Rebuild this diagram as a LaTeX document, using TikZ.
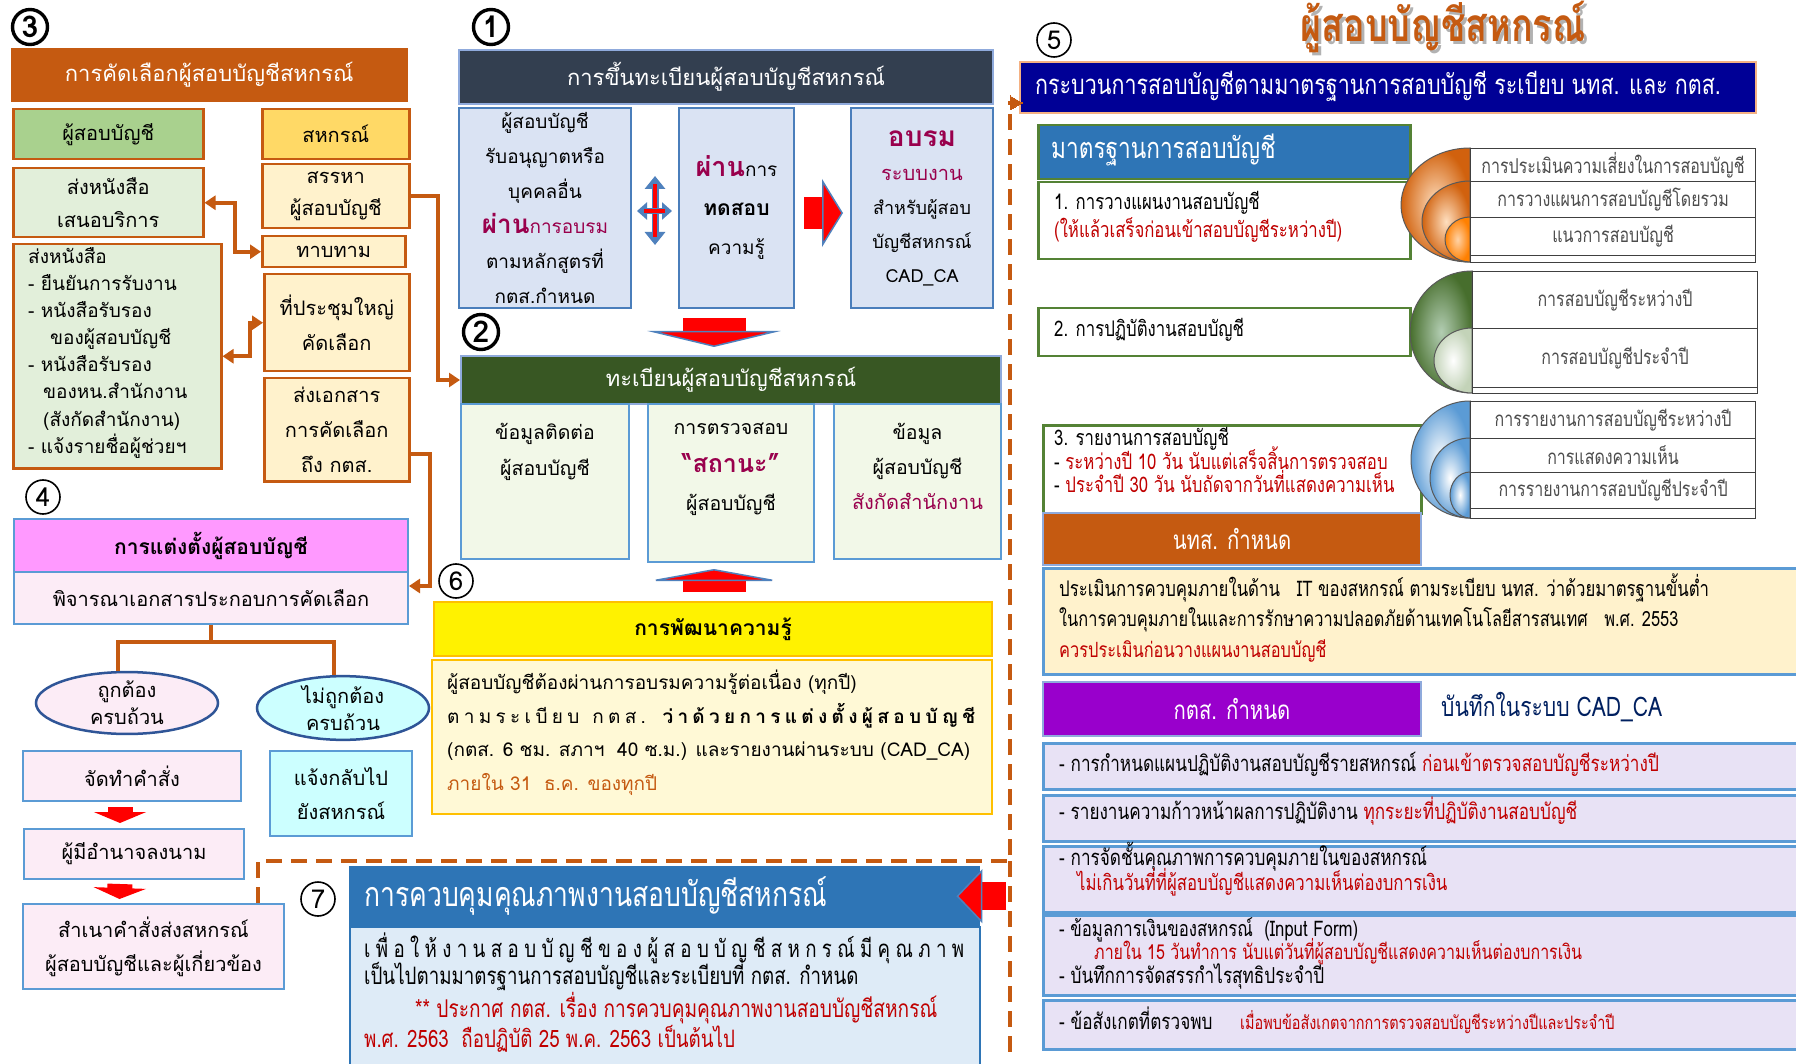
\documentclass[tikz,border=0pt]{standalone}
\usepackage{fontspec}
\setmainfont{Loma}[Script=Thai]
\newfontfamily\thc{Loma}[Script=Thai,FakeStretch=0.78]
\usetikzlibrary{arrows.meta,shapes.geometric,calc}
\definecolor{orD}{RGB}{197,90,17}
\definecolor{grH}{RGB}{169,209,142}
\definecolor{yeH}{RGB}{255,217,102}
\definecolor{lgr}{RGB}{226,239,218}
\definecolor{lye}{RGB}{255,242,204}
\definecolor{nvA}{RGB}{51,63,80}
\definecolor{lbA}{RGB}{143,170,220}
\definecolor{blF}{RGB}{218,227,243}
\definecolor{stA}{RGB}{74,126,187}
\definecolor{dgr}{RGB}{56,87,35}
\definecolor{gtF}{RGB}{242,248,232}
\definecolor{bbA}{RGB}{91,155,213}
\definecolor{yeB}{RGB}{255,192,0}
\definecolor{lyS}{RGB}{255,249,214}
\definecolor{pkA}{RGB}{255,153,255}
\definecolor{lpk}{RGB}{252,236,246}
\definecolor{elB}{RGB}{47,85,151}
\definecolor{lcy}{RGB}{204,255,255}
\definecolor{blS}{RGB}{46,117,182}
\definecolor{lbS}{RGB}{222,235,247}
\definecolor{nvF}{RGB}{0,0,150}
\definecolor{orL}{RGB}{244,177,131}
\definecolor{grF}{RGB}{84,130,53}
\definecolor{purA}{RGB}{153,0,204}
\definecolor{lav}{RGB}{232,226,245}
\definecolor{mar}{RGB}{153,0,76}
\definecolor{rdA}{RGB}{192,0,0}
\definecolor{nvT}{RGB}{0,32,96}
\definecolor{blA}{RGB}{79,129,189}
\newcommand\fs[2]{\fontsize{#1}{#2}\selectfont}
\newcommand\halfell[5]{\shadedraw[#5] (#1,#2) arc[start angle=90,end angle=270,x radius=#3pt,y radius=#4pt] -- cycle;}
\tikzset{
 bx/.style 2 args={anchor=north west, inner sep=0pt, align=center, minimum width=#1pt, minimum height=#2pt},
 ob/.style={draw=orD, line width=2.5pt},
 tl/.style={anchor=base west, inner sep=0pt},
 numbig/.style={circle, draw, line width=3.4pt, inner sep=0pt, minimum size=35pt, font=\bfseries\fs{30}{30}},
 numthin/.style={circle, draw, line width=1.6pt, inner sep=0pt, minimum size=34pt, font=\fs{26}{26}},
 oar/.style={draw=orD, line width=4pt, -{Triangle[width=14pt,length=11pt]}},
 oarb/.style={draw=orD, line width=4pt, {Triangle[width=14pt,length=11pt]}-{Triangle[width=14pt,length=11pt]}},
 blk/.style n args={3}{draw=red, line width=#1, -{Triangle[width=#2,length=#3,color=blA,fill=red,line width=1.5pt]}},
 rdar/.style={draw=red, line width=25pt, -{Triangle[width=52pt,length=11pt]}},
 rw/.style={draw=black!75, line width=1.1pt, fill=white, anchor=north west, inner sep=0pt, minimum width=285pt, text=black!70, font=\thc\fs{20.5}{22}},
 dsh/.style={draw=orD, line width=4pt, dash pattern=on 16pt off 9pt},
}
\begin{document}
\begin{tikzpicture}[x=1pt,y=-1pt]
\useasboundingbox (0,0) rectangle (1796,1064);
\fill[white] (0,0) rectangle (1796,1064);

% ---------- section 3
\node[numbig] (n3) at (30,27) {3};
\node[bx={396}{53}, fill=orD, draw=orD, text=white, font=\fs{22}{26}] (h3) at (11,48) {การคัดเลือกผู้สอบบัญชีสหกรณ์};
\node[bx={190}{50}, ob, fill=grH, font=\fs{20}{24}] (aud) at (12,108) {ผู้สอบบัญชี};
\node[bx={147}{50}, ob, fill=yeH, font=\fs{20}{24}] (coop) at (261,108) {สหกรณ์};
\node[bx={190}{69}, ob, fill=lgr, font=\fs{20}{33}] (send1) at (12,167) {ส่งหนังสือ\\เสนอบริการ};
\node[bx={147}{64}, ob, fill=lye, font=\fs{20}{32}] (recr) at (261,163) {สรรหา\\ผู้สอบบัญชี};
\node[bx={143}{31}, ob, fill=lye, font=\fs{20}{24}] (appr) at (261,235) {ทาบทาม};
\node[bx={208}{224}, ob, fill=lgr] (lst) at (12,243) {};
\begin{scope}[every node/.style={tl, font=\fs{19}{22}}]
\node (lt1) at (28,264) {ส่งหนังสือ};
\node (lt2) at (28,291) {- ยืนยันการรับงาน};
\node (lt3) at (28,318) {- หนังสือรับรอง};
\node (lt4) at (50,345) {ของผู้สอบบัญชี};
\node (lt5) at (28,372) {- หนังสือรับรอง};
\node (lt6) at (43,399) {ของหน.สำนักงาน};
\node (lt7) at (43,426) {(สังกัดสำนักงาน)};
\node (lt8) at (28,453) {- แจ้งรายชื่อผู้ช่วยฯ};
\end{scope}
\node[bx={145}{97}, ob, fill=lye, font=\fs{20}{35}] (meet) at (263,273) {ที่ประชุมใหญ่\\คัดเลือก};
\node[bx={145}{103}, ob, fill=lye, font=\fs{20}{35}] (sdoc) at (263,377) {ส่งเอกสาร\\การคัดเลือก\\ถึง กตส.};

% ---------- section 1
\node[numbig] (n1) at (491,27) {1};
\node[bx={534}{54}, fill=nvA, draw=lbA, line width=2pt, text=white, font=\fs{22}{26}] (h1) at (458,49) {การขึ้นทะเบียนผู้สอบบัญชีสหกรณ์};
\node[bx={172}{200}, fill=blF, draw=stA, line width=2pt, font=\fs{19}{35}] (b1a) at (458,107) {ผู้สอบบัญชี\\รับอนุญาตหรือ\\บุคคลอื่น\\{\color{mar}\bfseries\fs{26}{35}ผ่าน\mdseries\fs{19}{35}การอบรม}\\ตามหลักสูตรที่\\กตส.กำหนด};
\node[bx={115}{200}, fill=blF, draw=stA, line width=2pt, font=\fs{19}{39}] (b1b) at (678,107) {{\color{mar}\bfseries\fs{27}{39}ผ่าน}การ\\{\bfseries\fs{21}{39}ทดสอบ}\\ความรู้};
\node[bx={142}{200}, fill=blF, draw=stA, line width=2pt, font=\fs{18}{34}] (b1c) at (850,107) {{\color{mar}\bfseries\fs{28}{36}อบรม}\\{\color{mar}\fs{20}{34}ระบบงาน}\\สำหรับผู้สอบ\\บัญชีสหกรณ์\\CAD\_CA};
\coordinate (xc) at ($(b1a.east)!0.5!(b1b.west)$);
\draw[draw=blA, line width=7pt, {Triangle[width=20pt,length=13pt]}-{Triangle[width=20pt,length=13pt]}] ($(xc)+(0,-32)$) -- ($(xc)+(0,37)$);
\draw[red, line width=4pt] ($(xc)+(0,-24)$) -- ($(xc)+(0,29)$);
\draw[draw=blA, line width=6pt, {Triangle[width=17pt,length=10pt]}-{Triangle[width=17pt,length=10pt]}] ($(xc)+(-18,3)$) -- ($(xc)+(17,3)$);
\draw[red, line width=4pt] ($(xc)+(-11,3)$) -- ($(xc)+(10,3)$);
\draw[blk={32pt}{68pt}{21pt}] ($(b1b.east)+(9,5)$) -- ($(b1c.west)+(-7,5)$);

% ---------- section 2
\node[numbig] (n2) at (481,332) {2};
\node[bx={540}{48}, fill=dgr, draw=lbA, line width=2pt, text=white, font=\fs{22}{26}] (h2) at (460,355) {ทะเบียนผู้สอบบัญชีสหกรณ์};
\draw[blk={63pt}{133pt}{16pt}] ($(h2.north)+(-17,-37)$) -- ($(h2.north)+(-17,-8)$);
\node[bx={168}{155}, fill=gtF, draw=bbA, line width=2pt] (b2a) at (460,403) {};
\node[bx={166}{158}, fill=gtF, draw=bbA, line width=2pt] (b2b) at (647,403) {};
\node[bx={167}{155}, fill=gtF, draw=bbA, line width=2pt] (b2c) at (833,403) {};
\node[anchor=north, align=center, inner sep=0pt, font=\fs{19.5}{36}] (t2a) at ($(b2a.north)+(0,20)$) {ข้อมูลติดต่อ\\ผู้สอบบัญชี};
\node[anchor=north, align=center, inner sep=0pt, font=\fs{19.5}{38}] (t2b) at ($(b2b.north)+(0,20)$) {การตรวจสอบ\\{\color{mar}\bfseries\fs{25}{38}“สถานะ”}\\ผู้สอบบัญชี};
\node[anchor=north, align=center, inner sep=0pt, font=\fs{19.5}{35}] (t2c) at ($(b2c.north)+(0,20)$) {ข้อมูล\\ผู้สอบบัญชี\\{\color{mar}\fs{20}{35}สังกัดสำนักงาน}};

% section 3 connectors
\draw[oarb] (send1.east) -- ++(30,0) |- (appr.west);
\draw[oarb] (lst.east) -- ++(27,0) |- (meet.west);
\draw[oar] (recr.east) -- ++(27,0) |- (h2.west);

% ---------- section 6
\node[numthin] (n6) at (456,581) {6};
\node[bx={558}{54}, fill=yellow, draw=yeB, line width=2pt, font=\bfseries\fs{21}{24}] (h6) at (433,601) {การพัฒนาความรู้};
\draw[blk={63pt}{133pt}{12pt}] ($(h6.north)+(1,-9)$) -- ($(h6.north)+(1,-32)$);
\node[bx={560}{154}, fill=lyS, draw=yeB, line width=2pt] (b6) at (431,659) {};
\node[tl, font=\fs{19}{22}] (l6a) at (447,689) {ผู้สอบบัญชีต้องผ่านการอบรมความรู้ต่อเนื่อง (ทุกปี)};
\node[tl, font=\fs{19}{22}] (l6b) at (447,723) {\makebox[528pt][s]{ต า ม ร ะ เ บี ย บ \ \ ก ต ส . \ \ {\bfseries ว่ า ด้ ว ย ก า ร แ ต่ ง ตั้ ง ผู้ ส อ บ บั ญ ชี}}};
\node[tl, font=\fs{19}{22}] (l6c) at (447,756) {(กตส. 6 ชม. สภาฯ\ \ 40 ซ.ม.) และรายงานผ่านระบบ (CAD\_CA)};
\node[tl, font=\fs{19}{22}, text=orD] (l6d) at (447,790) {ภายใน 31\ \ ธ.ค. ของทุกปี};

% ---------- section 4
\node[numthin] (n4) at (43,497) {4};
\node[bx={394}{53}, fill=pkA, draw=bbA, line width=2pt, font=\bfseries\fs{21}{24}] (h4) at (13,518) {การแต่งตั้งผู้สอบบัญชี};
\node[bx={394}{52}, fill=lpk, draw=bbA, line width=2pt, font=\fs{20}{24}] (pija) at (13,571) {พิจารณาเอกสารประกอบการคัดเลือก};
\node[ellipse, draw=elB, line width=2.5pt, fill=lpk, minimum width=182pt, minimum height=58pt, inner sep=0pt, align=center, font=\fs{20}{27}] (ell1) at (127,703) {ถูกต้อง\\ครบถ้วน};
\node[ellipse, draw=elB, line width=2.5pt, fill=lcy, minimum width=172pt, minimum height=56pt, inner sep=0pt, align=center, font=\fs{20}{27}] (ell2) at (343,708) {ไม่ถูกต้อง\\ครบถ้วน};
\node[bx={218}{50}, fill=lpk, draw=bbA, line width=2pt, font=\fs{20}{24}] (order) at (22,750) {จัดทำคำสั่ง};
\node[bx={142}{85}, fill=lcy, draw=bbA, line width=2pt, font=\fs{20}{34}] (notify) at (269,750) {แจ้งกลับไป\\ยังสหกรณ์};
\node[bx={220}{50}, fill=lpk, draw=bbA, line width=2pt, font=\fs{20}{24}] (sign) at (23,828) {ผู้มีอำนาจลงนาม};
\node[bx={261}{85}, fill=lpk, draw=bbA, line width=2pt, font=\fs{20}{34}] (copy) at (22,903) {สำเนาคำสั่งส่งสหกรณ์\\ผู้สอบบัญชีและผู้เกี่ยวข้อง};
\draw[draw=orD, line width=4pt] (pija.south) -- (pija.south |- 0,642) coordinate (tj);
\draw[draw=orD, line width=4pt] (118,642) -- (334,642);
\draw[draw=orD, line width=4pt] (118,640) -- (ell1.north -| 118,0);
\draw[draw=orD, line width=4pt] (334,640) -- (ell2.north -| 334,0);
\draw[rdar] ($(order.south)+(-12,5)$) -- ($(sign.north)+(-14,-5)$);
\draw[rdar] ($(sign.south)+(-14,4)$) -- ($(copy.north)+(-34,-4)$);
\draw[oar] ([yshift=-24pt]sdoc.east) -- ++(19,0) |- ([yshift=12pt]pija.east);

% ---------- section 7
\node[numthin] (n7) at (318,899) {7};
\node[bx={630}{60}, fill=blS, draw=blS] (h7) at (349,866) {};
\node[tl, text=white, font=\thc\fs{34}{36}] (t7) at (364,906) {การควบคุมคุณภาพงานสอบบัญชีสหกรณ์};
\node[bx={630}{145}, fill=lbS, draw=blS, line width=2pt] (b7) at (349,926) {};
\node[tl, font=\thc\fs{24}{26}] (l7a) at (364,957) {\makebox[600pt][s]{เ พื่ อ ใ ห้ ง า น ส อ บ บั ญ ชี ข อ ง ผู้ ส อ บ บั ญ ชี ส ห ก ร ณ์ มี คุ ณ ภ า พ}};
\node[tl, font=\thc\fs{24}{26}] (l7b) at (364,984) {เป็นไปตามมาตรฐานการสอบบัญชีและระเบียบที่ กตส. กำหนด};
\node[tl, font=\thc\fs{24.5}{26}, text=rdA] (l7c) at (415,1017) {** ประกาศ กตส. เรื่อง การควบคุมคุณภาพงานสอบบัญชีสหกรณ์};
\node[tl, font=\thc\fs{24}{26}, text=rdA] (l7d) at (364,1047) {พ.ศ. 2563\ \ ถือปฏิบัติ 25 พ.ค. 2563 เป็นต้นไป};
\draw[blk={28pt}{54pt}{26pt}] ($(h7.east)+(27,0)$) -- ($(h7.east)+(-23,0)$);

% ---------- section 5
\node[font=\thc\bfseries\fs{46}{48}, text=black!30] (ttls) at (1446,30) {ผู้สอบบัญชีสหกรณ์};
\node[font=\thc\bfseries\fs{46}{48}, text=orD] (ttl) at (1443,27) {ผู้สอบบัญชีสหกรณ์};
\node[numthin] (n5) at (1054,40) {5};
\node[bx={736}{51}, fill=nvF, draw=orL, line width=2pt] (h5) at (1019,61) {};
\node[tl, text=white, font=\thc\fs{27.5}{28}] (t5) at (1035,95) {กระบวนการสอบบัญชีตามมาตรฐานการสอบบัญชี ระเบียบ นทส. และ กตส.};

% dashed connector
\coordinate (dA) at (258,861);
\coordinate (dB) at (1010,861);
\coordinate (dT) at (1010,103);
\coordinate (dC) at (1010,1052);
\draw[dsh] (copy.north -| dA) -- (dA) -- (dB) -- (dT) -- ($(dT -| h5.west)+(-4,0)$);
\draw[draw=orD, line width=0pt, fill=orD] ($(dT -| h5.west)+(3,0)$) -- ++(-12,-7) -- ++(0,14) -- cycle;
\draw[dsh] (dB) -- (dC);

\node[bx={372}{54}, fill=blS, draw=grF, line width=2.5pt] (std) at (1037,124) {};
\node[tl, text=white, font=\thc\fs{29}{30}] (tstd) at (1051,159) {มาตรฐานการสอบบัญชี};
\node[bx={372}{77}, fill=white, draw=grF, line width=2.5pt] (s1) at (1037,181) {};
\node[tl, font=\thc\fs{21.5}{22}] (s1a) at (1054,210) {1. การวางแผนงานสอบบัญชี};
\node[tl, font=\thc\fs{21.5}{22}, text=rdA] (s1b) at (1054,238) {(ให้แล้วเสร็จก่อนเข้าสอบบัญชีระหว่างปี)};
\node[bx={372}{48}, fill=white, draw=grF, line width=2.5pt] (s2) at (1037,307) {};
\node[tl, font=\thc\fs{21.5}{22}] (s2a) at (1054,337) {2. การปฏิบัติงานสอบบัญชี};
\node[bx={378}{88}, fill=white, draw=grF, line width=2.5pt] (s3) at (1042,424) {};
\node[tl, font=\thc\fs{21.5}{22}] (s3a) at (1054,445) {3. รายงานการสอบบัญชี};
\node[tl, font=\thc\fs{21.5}{22}] (s3b) at (1054,469) {- {\color{rdA}ระหว่างปี 10 วัน นับแต่เสร็จสิ้นการตรวจสอบ}};
\node[tl, font=\thc\fs{21.5}{22}] (s3c) at (1054,492) {- {\color{rdA}ประจำปี 30 วัน นับถัดจากวันที่แสดงความเห็น}};
\node[bx={378}{52}, fill=orD, draw=lbA, line width=2pt, text=white, font=\thc\fs{26}{28}] (ntd) at (1042,512) {นทส. กำหนด};
\node[bx={770}{106}, fill=lye, draw=bbA, line width=2.5pt] (yb) at (1042,567) {};
\node[tl, font=\thc\fs{21.5}{22}] (y1) at (1059,596) {ประเมินการควบคุมภายในด้าน\ \ \ IT ของสหกรณ์ ตามระเบียบ นทส. ว่าด้วยมาตรฐานขั้นต่ำ};
\node[tl, font=\thc\fs{21}{22}] (y2) at (1059,626) {ในการควบคุมภายในและการรักษาความปลอดภัยด้านเทคโนโลยีสารสนเทศ\ \ \ พ.ศ. 2553};
\node[tl, font=\thc\fs{21}{22}, text=rdA] (y3) at (1059,657) {ควรประเมินก่อนวางแผนงานสอบบัญชี};
\node[bx={378}{54}, fill=purA, draw=lbA, line width=2pt, text=white, font=\thc\fs{26}{28}] (kts) at (1042,681) {กตส. กำหนด};
\node[tl, text=nvT, font=\thc\fs{27}{28}] (cad) at (1441,716) {บันทึกในระบบ CAD\_CA};
\node[bx={770}{46}, fill=lav, draw=bbA, line width=2.5pt] (la) at (1042,742) {};
\node[tl, font=\thc\fs{22}{22}] (la1) at (1059,771) {- การกำหนดแผนปฏิบัติงานสอบบัญชีรายสหกรณ์ {\color{rdA}ก่อนเข้าตรวจสอบบัญชีระหว่างปี}};
\node[bx={770}{46}, fill=lav, draw=bbA, line width=2.5pt] (lb) at (1042,794) {};
\node[tl, font=\thc\fs{22}{22}] (lb1) at (1059,819) {- รายงานความก้าวหน้าผลการปฏิบัติงาน {\color{rdA}ทุกระยะที่ปฏิบัติงานสอบบัญชี}};
\node[bx={770}{66}, fill=lav, draw=bbA, line width=2.5pt] (lc) at (1042,845) {};
\node[tl, font=\thc\fs{22}{22}] (lc1) at (1059,865) {- การจัดชั้นคุณภาพการควบคุมภายในของสหกรณ์};
\node[tl, font=\thc\fs{21.5}{22}, text=rdA] (lc2) at (1077,890) {ไม่เกินวันที่ที่ผู้สอบบัญชีแสดงความเห็นต่องบการเงิน};
\node[bx={770}{80}, fill=lav, draw=bbA, line width=2.5pt] (ld) at (1042,914) {};
\node[tl, font=\thc\fs{21.5}{22}] (ld1) at (1059,936) {- ข้อมูลการเงินของสหกรณ์\ \ (Input Form)};
\node[tl, font=\thc\fs{20.5}{22}, text=rdA] (ld2) at (1094,959) {ภายใน 15 วันทำการ นับแต่วันที่ผู้สอบบัญชีแสดงความเห็นต่องบการเงิน};
\node[tl, font=\thc\fs{22}{22}] (ld3) at (1059,983) {- บันทึกการจัดสรรกำไรสุทธิประจำปี};
\node[bx={770}{49}, fill=lav, draw=bbA, line width=2.5pt] (le) at (1042,999) {};
\node[tl, font=\thc\fs{22}{22}] (le1) at (1059,1029) {- ข้อสังเกตที่ตรวจพบ};
\node[tl, font=\thc\fs{18.5}{22}, text=rdA] (le2) at (1240,1029) {เมื่อพบข้อสังเกตจากการตรวจสอบบัญชีระหว่างปีและประจำปี};

% arcs
\halfell{1470}{148}{69}{57}{inner color=orange!25!white, outer color=orD!80!orange, draw=black!65, line width=1pt}
\halfell{1470}{181}{48}{40.5}{inner color=orange!25!white, outer color=orD!80!orange, draw=black!65, line width=1pt}
\halfell{1470}{217}{25}{22.5}{inner color=orange!35!white, outer color=orange, draw=black!65, line width=1pt}
\halfell{1472}{271}{62}{61}{inner color=green!35!black!30!white, outer color=grF!85!black, draw=black!65, line width=1pt}
\halfell{1472}{328}{38}{32.5}{inner color=white, outer color=grF!35!white, draw=black!65, line width=1pt}
\halfell{1470}{401}{59}{58.5}{inner color=white, outer color=bbA, draw=black!65, line width=1pt}
\halfell{1470}{438}{40}{40}{inner color=white, outer color=bbA, draw=black!65, line width=1pt}
\halfell{1470}{472}{20}{23}{inner color=white, outer color=bbA, draw=black!65, line width=1pt}

\node[rw, minimum height=33pt] (ro1) at (1470,148) {การประเมินความเสี่ยงในการสอบบัญชี};
\node[rw, minimum height=36pt] (ro2) at (1470,181) {การวางแผนการสอบบัญชีโดยรวม};
\node[rw, minimum height=38pt] (ro3) at (1470,217) {แนวการสอบบัญชี};
\node[rw, minimum height=7pt] (ro4) at (1470,255) {};
\node[rw, minimum height=57pt] (rg1) at (1472,271) {การสอบบัญชีระหว่างปี};
\node[rw, minimum height=59pt] (rg2) at (1472,328) {การสอบบัญชีประจำปี};
\node[rw, minimum height=6pt] (rg3) at (1472,387) {};
\node[rw, minimum height=37pt] (rb1) at (1470,401) {การรายงานการสอบบัญชีระหว่างปี};
\node[rw, minimum height=34pt] (rb2) at (1470,438) {การแสดงความเห็น};
\node[rw, minimum height=36pt] (rb3) at (1470,472) {การรายงานการสอบบัญชีประจำปี};
\node[rw, minimum height=10pt] (rb4) at (1470,508) {};
\end{tikzpicture}
\end{document}
